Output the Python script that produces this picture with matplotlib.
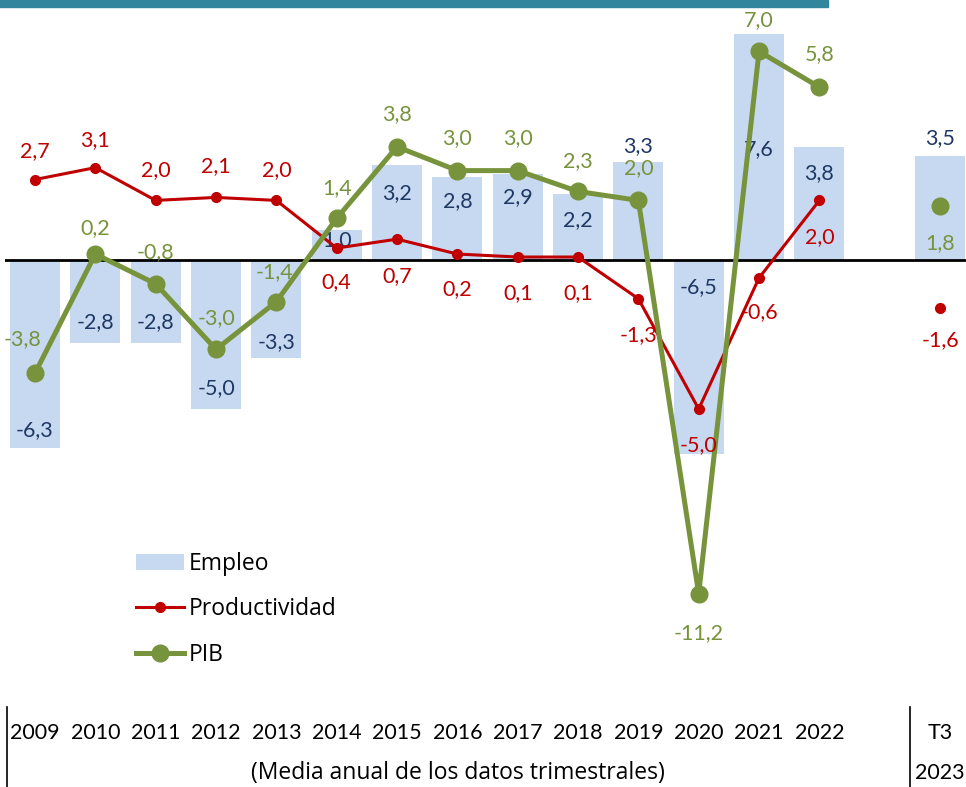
import matplotlib.pyplot as plt
import numpy as np
from matplotlib.lines import Line2D
from matplotlib.patches import Rectangle
from matplotlib.transforms import blended_transform_factory

plt.rcParams["font.family"] = ["Lato", "DejaVu Sans"]

years = ["2009", "2010", "2011", "2012", "2013", "2014", "2015", "2016",
         "2017", "2018", "2019", "2020", "2021", "2022"]
last_label = "T3"
last_year = "2023"

empleo = [-6.3, -2.8, -2.8, -5.0, -3.3, 1.0, 3.2, 2.8, 2.9, 2.2, 3.3, -6.5, 7.6, 3.8, 3.5]
productividad = [2.7, 3.1, 2.0, 2.1, 2.0, 0.4, 0.7, 0.2, 0.1, 0.1, -1.3, -5.0, -0.6, 2.0, -1.6]
pib = [-3.8, 0.2, -0.8, -3.0, -1.4, 1.4, 3.8, 3.0, 3.0, 2.3, 2.0, -11.2, 7.0, 5.8, 1.8]

# label offsets (pixels) relative to the value, Excel-style hand placement
empleo_dy = [18, 21, 21, 21, 16, -10, -28, -25, -24, -26, 16, 167, -116, -26, 18]
prod_dy = [28, 28, 30, 31, 30, -34, -37, -35, -36, -36, -36, -36, -34, -37, -32]
pib_dy = [34, 26, 32, 31, 30, 30, 33, 33, 33, 30, 32, -39, 31, 33, -37]
pib_dx = [-12, 0, 0, 0, -2, 0, 0, 0, 0, 0, 0, 0, 0, 0, 0]

C_BAR = "#C6D9F0"
C_RED = "#C00000"
C_GREEN = "#77933C"
C_NAVY = "#1F3864"
FS = 15.5
WIDE = ["Open Sans", "DejaVu Sans"]

n = len(years)
x = np.append(np.arange(n), n + 1)  # gap before T3

W, H = 966, 787
fig = plt.figure(figsize=(W / 100, H / 100), dpi=100)
ax = fig.add_axes([5 / W, (H - 700) / H, 961 / W, 700 / H])
ax.set_xlim(-0.497, 15.43)
ax.set_ylim(-14.765, 8.725)

bars = ax.bar(x, empleo, width=0.83, color=C_BAR, zorder=1, label="Empleo")
ax.axhline(0, color="black", lw=2, zorder=2)

l_prod, = ax.plot(x[:n], productividad[:n], color=C_RED, lw=2.2, marker="o", ms=7,
                  zorder=3, label="Productividad")
ax.plot(x[n:], productividad[n:], ls="none", color=C_RED, marker="o", ms=7, zorder=3)
l_pib, = ax.plot(x[:n], pib[:n], color=C_GREEN, lw=3.6, marker="o", ms=12,
                 zorder=4, label="PIB")
ax.plot(x[n:], pib[n:], ls="none", color=C_GREEN, marker="o", ms=12, zorder=4)


def fmt(v):
    return f"{v:.1f}".replace(".", ",")


for i in range(len(x)):
    ax.annotate(fmt(empleo[i]), (x[i], empleo[i]), xytext=(0, empleo_dy[i]),
                textcoords="offset pixels", ha="center", va="center",
                color=C_NAVY, fontsize=FS, zorder=2.5)
    ax.annotate(fmt(productividad[i]), (x[i], productividad[i]), xytext=(0, prod_dy[i]),
                textcoords="offset pixels", ha="center", va="center",
                color=C_RED, fontsize=FS, zorder=5)
    ax.annotate(fmt(pib[i]), (x[i], pib[i]), xytext=(pib_dx[i], pib_dy[i]),
                textcoords="offset pixels", ha="center", va="center",
                color=C_GREEN, fontsize=FS, zorder=5)

ax.axis("off")

# category axis below the plot
tr = blended_transform_factory(ax.transData, fig.transFigure)
for xi, lab in zip(x, years + [last_label]):
    ax.text(xi, 1 - 733 / H, lab, transform=tr, ha="center", va="center",
            fontsize=FS, clip_on=False)
ax.text(x[-1], 1 - 773 / H, last_year, transform=tr, ha="center", va="center",
        fontsize=FS, clip_on=False)
fig.text(458 / W, 1 - 773 / H, "(Media anual de los datos trimestrales)",
         ha="center", va="center", fontsize=16.5, family=WIDE)
for px in (7, 910):
    fig.add_artist(Line2D([px / W, px / W], [0, 1 - 707 / H], color="black", lw=1.2))

# cut-off header band
fig.add_artist(Rectangle((0, 1 - 7 / H), 828 / W, 7 / H, color="#31859C",
                         transform=fig.transFigure))

ax.legend([bars, l_prod, l_pib], ["Empleo", "Productividad", "PIB"],
          loc="upper left", bbox_to_anchor=(115 / W, 1 - 531 / H),
          bbox_transform=fig.transFigure, frameon=False,
          prop={"family": WIDE, "size": 16.5},
          handlelength=2.1, handletextpad=0.2, labelspacing=0.95)

fig.savefig("out.png", dpi=100)
